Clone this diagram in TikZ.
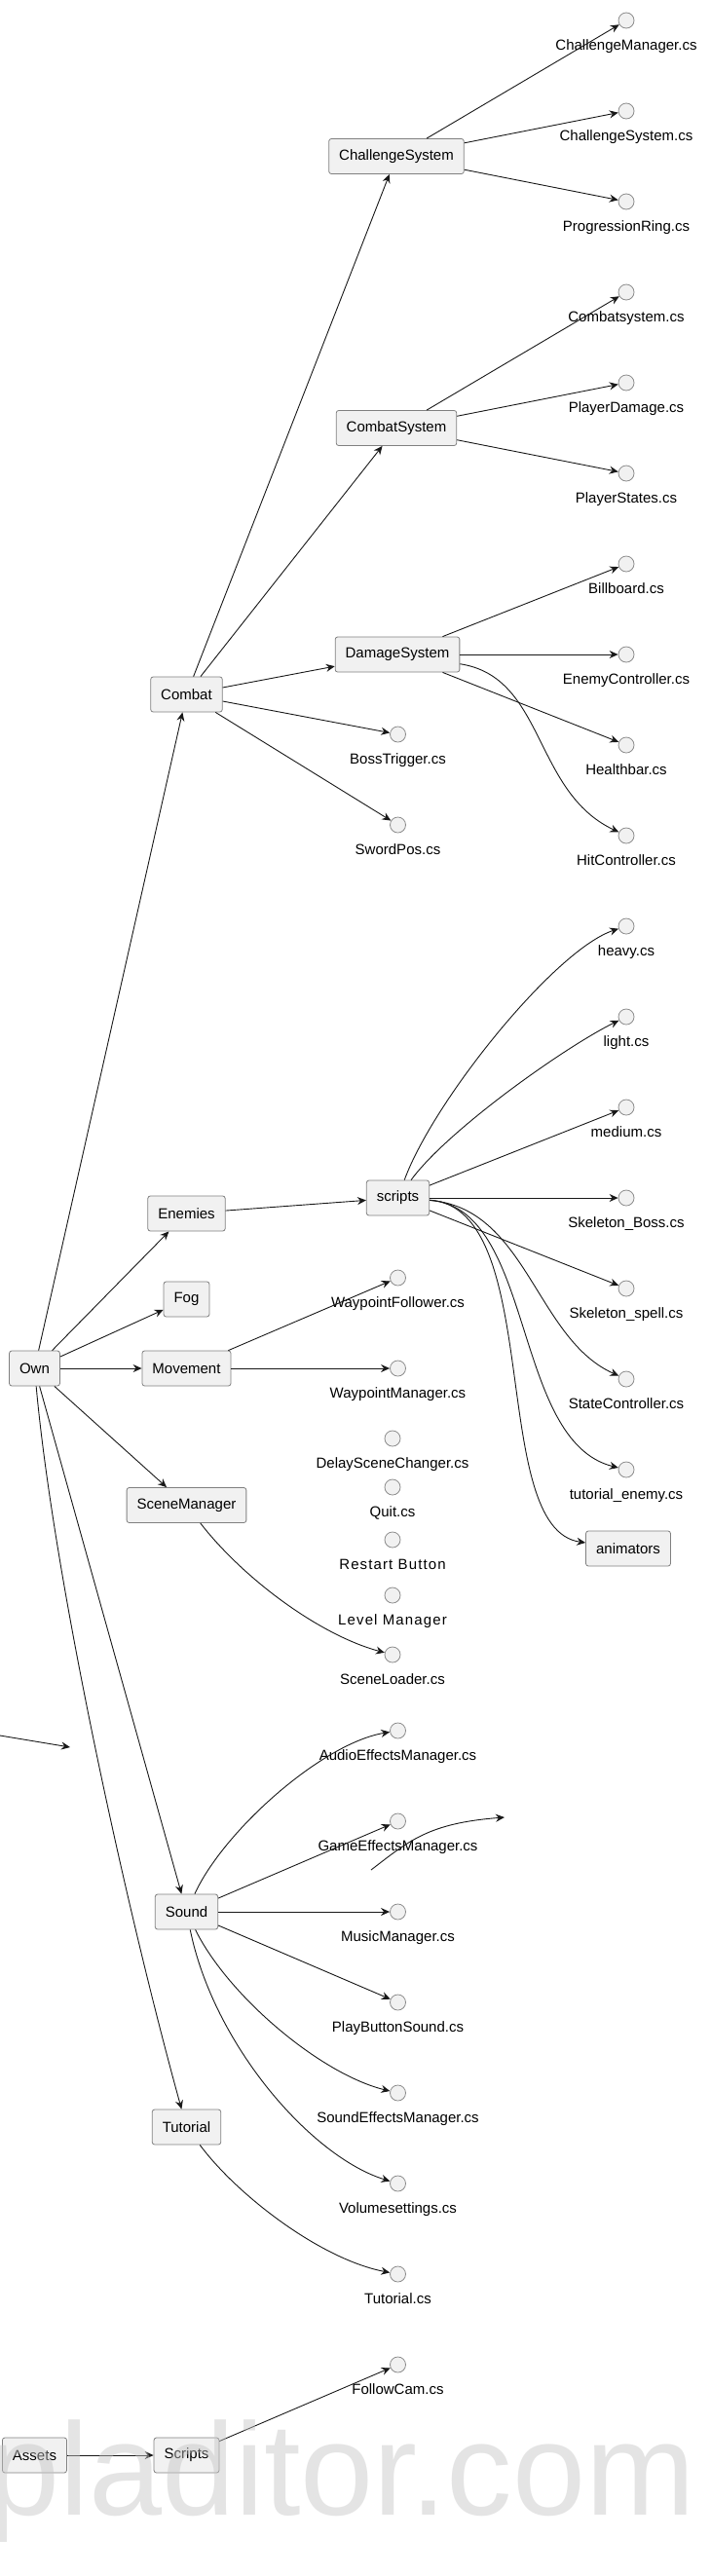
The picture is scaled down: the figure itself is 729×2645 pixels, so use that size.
\documentclass[tikz,border=0pt]{standalone}
\usepackage{fontspec}
\setmainfont{Liberation Sans}
\usepackage{tikz}
\usetikzlibrary{arrows.meta}
\definecolor{boxgray}{HTML}{F1F1F1}
\definecolor{linegray}{HTML}{181818}
\definecolor{markgray}{HTML}{C4C4C4}
\newcommand{\filefont}{\fontsize{15}{18}\selectfont}
\newcommand{\spacedfont}{\addfontfeature{LetterSpace=7.5}}
\tikzstyle{folder}=[rectangle,rounded corners=2.5pt,fill=boxgray,draw=black!50,line width=0.8pt,minimum height=36pt,inner xsep=10.5pt,inner ysep=0pt,font=\filefont]
\tikzstyle{filenode}=[circle,fill=boxgray,draw=black!45,line width=0.8pt,minimum size=16pt,inner sep=0pt]
\tikzstyle{filename}=[anchor=base,inner sep=0pt,font=\filefont]
\tikzstyle{arrowedge}=[draw,linegray,line width=0.9pt,-{Stealth[length=9pt,width=8pt,inset=3pt]}]
\tikzstyle{watermark}=[anchor=base west,inner sep=0pt,text=markgray,text opacity=0.45,font=\fontsize{135}{135}\selectfont]

\begin{document}
\begin{tikzpicture}[x=1pt,y=-1pt]

    \def\xa{35.5};
    \def\xb{191.5};
    \def\xc{408.5};
    \def\xd{643};
    \def\dy{93};
    \def\ty{30};

    \useasboundingbox (0,0) rectangle (729,2645);

%layer 0
    \foreach \pos/\name/\label in {{(\xa,1405)/own/Own}, {(\xa,2521)/assets/Assets}}
        \node[folder] (\name) at \pos {\label};
%layer 1
    \foreach \pos/\name/\label in {{(\xb,713)/combat/Combat}, {(\xb,1246)/enemies/Enemies}, {(\xb,1334)/fog/Fog}, {(\xb,1405)/movement/Movement}, {(\xb,1545.5)/scenemgr/SceneManager}, {(\xb,1963)/sound/Sound}, {(\xb,2184)/tutorial/Tutorial}, {(\xb,2521)/scripts2/Scripts}}
        \node[folder] (\name) at \pos {\label};
%layer 2
    \foreach \pos/\name/\label in {{(407,160.5)/chsys/ChallengeSystem}, {(407,439.5)/cbsys/CombatSystem}, {(408,672)/dmsys/DamageSystem}, {(\xc,1230)/scripts/scripts}}
        \node[folder] (\name) at \pos {\label};
    \node[folder] (animators) at (645,1590) {animators};

% Files
    %right column
    \foreach \k/\name/\label in {0/cm/ChallengeManager.cs, 1/csc/ChallengeSystem.cs, 2/pr/ProgressionRing.cs, 3/cbs/Combatsystem.cs, 4/pd/PlayerDamage.cs, 5/ps/PlayerStates.cs, 6/bb/Billboard.cs, 7/ec/EnemyController.cs, 8/hb/Healthbar.cs, 9/hc/HitController.cs, 10/heavy/heavy.cs, 11/light/light.cs, 12/medium/medium.cs, 13/sboss/Skeleton\_Boss.cs, 14/sspell/Skeleton\_spell.cs, 15/stc/StateController.cs, 16/tenemy/tutorial\_enemy.cs}
    {
        \node[filenode] (\name) at (\xd, 21+\k*\dy) {};
        \node[filename] (\name-t) at (\xd, 21+\k*\dy+\ty) {\label};
    }
    %middle column
    \foreach \y/\name/\label in {754/bt/BossTrigger.cs, 847/sp/SwordPos.cs, 1312/wf/WaypointFollower.cs, 1405/wm/WaypointManager.cs, 1777/aem/AudioEffectsManager.cs, 1870/gem/GameEffectsManager.cs, 1963/mm/MusicManager.cs, 2056/pbs/PlayButtonSound.cs, 2149/sem/SoundEffectsManager.cs, 2242/vs/Volumesettings.cs, 2335/tcs/Tutorial.cs, 2428/fc/FollowCam.cs}
    {
        \node[filenode] (\name) at (\xc, \y) {};
        \node[filename] (\name-t) at (\xc, \y+\ty) {\label};
    }
    \foreach \y/\name/\label in {1477/dsc/DelaySceneChanger.cs, 1527/quit/Quit.cs, 1581/restart/{\spacedfont Restart Button}, 1638/lvl/{\spacedfont Level Manager}, 1699/sl/SceneLoader.cs}
    {
        \node[filenode] (\name) at (403, \y) {};
        \node[filename] (\name-t) at (403, \y+\ty) {\label};
    }

% Edges
    \foreach \source/\dest in {own/combat, own/enemies, own/fog, own/movement, own/scenemgr, own/sound, combat/chsys, combat/cbsys, combat/dmsys, combat/bt, combat/sp, chsys/cm, chsys/csc, chsys/pr, cbsys/cbs, cbsys/pd, cbsys/ps, dmsys/bb, dmsys/ec, dmsys/hb, enemies/scripts, scripts/medium, scripts/sboss, scripts/sspell, movement/wf, movement/wm, sound/gem, sound/mm, sound/pbs, assets/scripts2, scripts2/fc}
        \path[arrowedge] (\source) -- (\dest);

    %curved
    \path[arrowedge] (own) .. controls +(19.5,215) and +(-62,-224) .. (tutorial);
    \path[arrowedge] (dmsys) .. controls +(152,23) and +(-96,-45) .. (hc);
    \path[arrowedge] (scripts) .. controls +(36.5,-100) and +(-73,24) .. (heavy);
    \path[arrowedge] (scripts) .. controls +(51.5,-70) and +(-63,31) .. (light);
    \path[arrowedge] (scripts) .. controls +(132.5,10) and +(-93,-41) .. (stc);
    \path[arrowedge] (scripts) .. controls +(141.5,10) and +(-118,-29) .. (tenemy);
    \path[arrowedge] (scripts) .. controls +(151.5,10) and +(-145,-20) .. (animators);
    \path[arrowedge] (scenemgr) .. controls +(58,75) and +(-75,-20) .. (sl);
    \path[arrowedge] (sound) .. controls +(38,-83) and +(-78,13) .. (aem);
    \path[arrowedge] (sound) .. controls +(43,87) and +(-78.5,-19) .. (sem);
    \path[arrowedge] (sound) .. controls +(28,137) and +(-88.5,-27) .. (vs);
    \path[arrowedge] (tutorial) .. controls +(53,71) and +(-78.5,-15) .. (tcs);

    %loose ends
    \coordinate (gfree) at (381,1920);
    \coordinate (gtip) at (518,1866);
    \path[arrowedge] (gfree) .. controls +(39,-30) and +(-78,6) .. (gtip);
    \coordinate (lfree) at (0,1782);
    \coordinate (ltip) at (72,1794);
    \path[arrowedge] (lfree) -- (ltip);

%Label
    \node[watermark] (wmark) at (-14,2582) {pladitor.com};

\end{tikzpicture}
\end{document}
